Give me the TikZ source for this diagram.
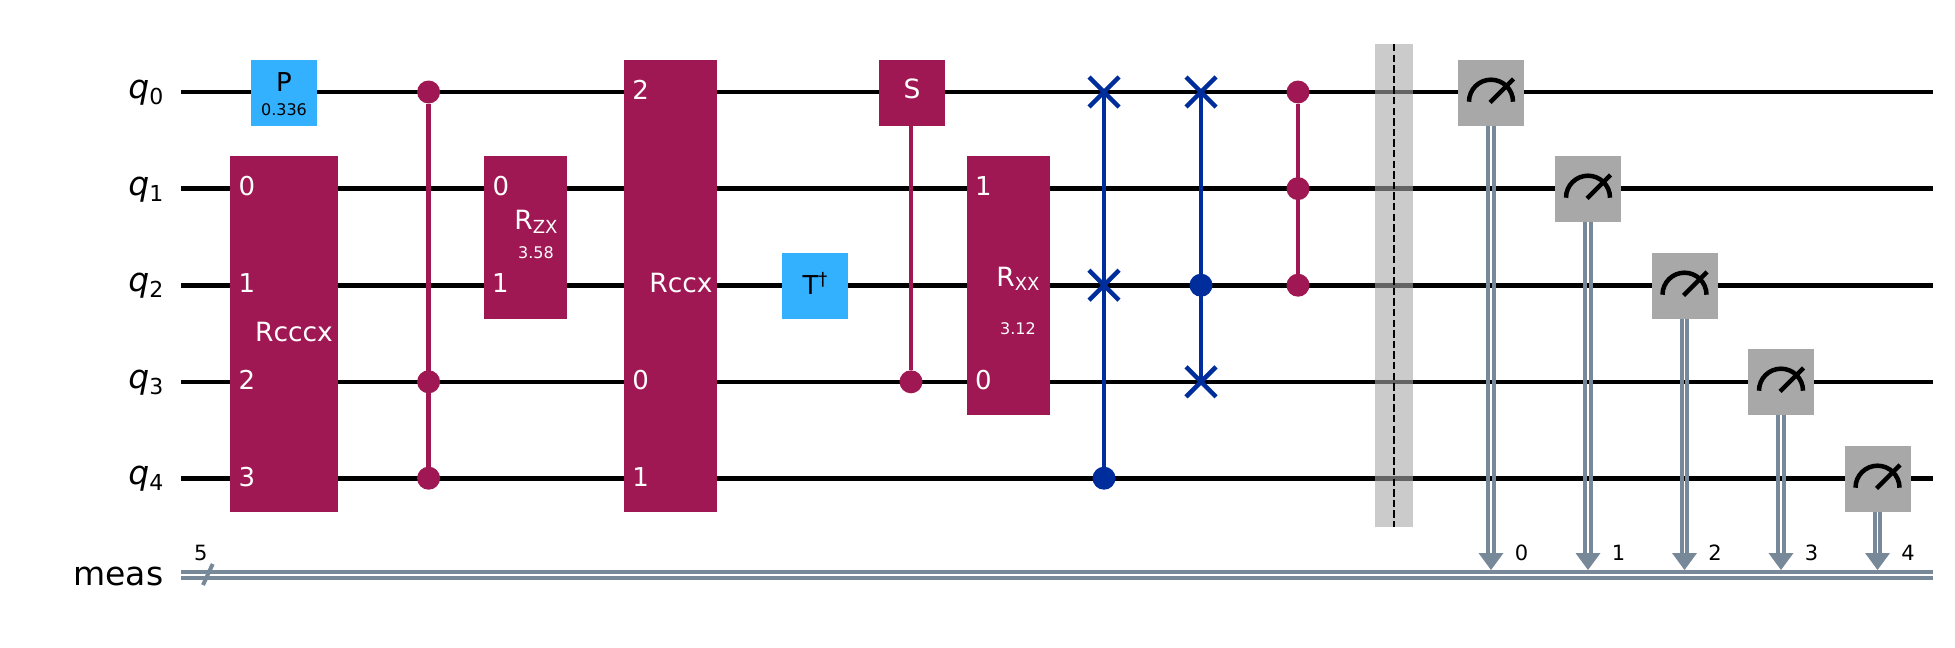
\documentclass[tikz,border=0pt]{standalone}
\usepackage{fontspec}
\setmainfont{DejaVu Sans}
\usepackage{tikz}
\usetikzlibrary{shapes.misc}
\definecolor{multicol}{HTML}{9F1853}
\definecolor{lightcol}{HTML}{33B1FF}
\definecolor{swapcol}{HTML}{002D9C}
\definecolor{meascol}{HTML}{A8A8A8}
\definecolor{clcol}{HTML}{778899}
\newcommand{\fs}[1]{\fontsize{#1}{#1}\selectfont}
\newcommand{\gatesub}[2]{R\raisebox{-4.5pt}{\fs{18}#2}}
\tikzset{
  wire/.style={line width=4.6pt,black},
  clbit/.style={line width=4pt,clcol},
  ctrlline/.style={line width=4.5pt,#1},
  gatebox/.style={rectangle,inner sep=0pt,outer sep=0pt,minimum width=#1},
  multigate/.style={gatebox=#1,fill=multicol},
  lightgate/.style={gatebox=66pt,minimum height=66pt,fill=lightcol},
  measbox/.style={gatebox=66pt,minimum height=66pt,fill=meascol},
  ctrl/.style={circle,inner sep=0pt,outer sep=0pt,minimum size=23pt,fill=#1},
  swapx/.style={cross out,draw=swapcol,line width=4.5pt,inner sep=0pt,outer sep=0pt,minimum size=30pt},
  gatetxt/.style={inner sep=0pt,white,font=\fs{26.5}},
  subtxt/.style={inner sep=0pt,white,font=\fs{16}},
  pintxt/.style={inner sep=0pt,white,font=\fs{26}},
  cltxt/.style={inner sep=0pt,black,font=\fs{21}},
  wiretxt/.style={inner sep=0pt,anchor=base east,black,font=\fs{33}},
}
\begin{document}
\begin{tikzpicture}[x=1pt,y=-1pt]
      \useasboundingbox (0,0) rectangle (1955,648);
      \foreach \i/\y in {0/92,1/188.6,2/285.2,3/381.8,4/478.2}
      {
        \coordinate (in\i) at (181,\y);
        \coordinate (out\i) at (1933,\y);
        \node [wiretxt] (qlab\i) at (163.5,\y+6.5) {\itshape q\raisebox{-6pt}{\fs{22}\upshape\i}};
        \draw [wire] (in\i) -- (out\i);
      }
      \coordinate (clin) at (181,575);
      \coordinate (clout) at (1933,575);
      \coordinate (slasha) at (203,585);
      \coordinate (slashb) at (212.7,564);
      \draw [clbit] ([yshift=3pt]clin) -- ([yshift=3pt]clout);
      \draw [clbit] ([yshift=-3pt]clin) -- ([yshift=-3pt]clout);
      \draw [clbit] (slasha) -- (slashb);
      \node [wiretxt] (measlab) at (163.5,585.5) {meas};
      \node [cltxt] (cllab) at (200.7,553) {5};

      \node [gatebox=38pt,minimum height=483.5pt,fill=meascol,fill opacity=0.6] (bar) at (1394,285.7) {};
      \draw [line width=2pt,black,dash pattern=on 7.4pt off 3.2pt] (bar.north) -- (bar.south);

      \node [lightgate] (pgate) at (284,93) {};
      \node [inner sep=0pt,font=\fs{26}] (ptxt) at (284,82) {P};
      \node [inner sep=0pt,font=\fs{16}] (pval) at (284,110) {0.336};

      \node [multigate=108pt,minimum height=356pt] (rcccx) at (284,334) {};
      \node [gatetxt] (rcccxtxt) at (294,332.5) {Rcccx};
      \foreach \t/\y in {0/186.5,1/283,2/380,3/477}
      \node [pintxt] (rcccxpin\t) at (247,\y) {\t};

      \node [ctrl=multicol] (cca) at (428.6,92) {};
      \node [ctrl=multicol] (ccb) at (428.6,381.8) {};
      \node [ctrl=multicol] (ccc) at (428.6,478.2) {};
      \draw [ctrlline=multicol] (cca) -- (ccc);

      \node [multigate=83pt,minimum height=163pt] (rzx) at (525.5,237.5) {};
      \node [gatetxt] (rzxtxt) at (536,222) {\gatesub{R}{ZX}};
      \node [subtxt] (rzxval) at (536,252.5) {3.58};
      \node [pintxt] (rzxpina) at (501,186.5) {0};
      \node [pintxt] (rzxpinb) at (500.5,283) {1};

      \node [multigate=93pt,minimum height=452pt] (rccx) at (670.5,286) {};
      \node [gatetxt] (rccxtxt) at (681,283.5) {Rccx};
      \node [pintxt] (rccxpina) at (640.6,90) {2};
      \node [pintxt] (rccxpinb) at (640.6,380) {0};
      \node [pintxt] (rccxpinc) at (640.6,477) {1};

      \node [lightgate] (tdg) at (815,286) {};
      \node [inner sep=0pt,font=\fs{26}] (tdgtxt) at (815,283.5) {T\raisebox{9pt}{\fs{18}†}};

      \node [multigate=66pt,minimum height=66pt] (sgate) at (912,93) {};
      \node [gatetxt] (stxt) at (912,89) {S};
      \node [ctrl=multicol] (sctrl) at (911,381.8) {};
      \draw [ctrlline=multicol] (sgate.south -| sctrl) -- (sctrl);

      \node [multigate=83pt,minimum height=259.5pt] (rxx) at (1008.5,285.7) {};
      \node [gatetxt] (rxxtxt) at (1018,279) {\gatesub{R}{XX}};
      \node [subtxt] (rxxval) at (1018,329) {3.12};
      \node [pintxt] (rxxpina) at (983.5,186.5) {1};
      \node [pintxt] (rxxpinb) at (983.5,380) {0};

      \node [swapx] (swa) at (1104,92) {};
      \node [swapx] (swb) at (1104,285.2) {};
      \node [ctrl=swapcol] (swc) at (1104,478.2) {};
      \draw [ctrlline=swapcol] (swa.center) -- (swc);

      \node [swapx] (sxa) at (1201,92) {};
      \node [ctrl=swapcol] (sxb) at (1201,285.2) {};
      \node [swapx] (sxc) at (1201,381.8) {};
      \draw [ctrlline=swapcol] (sxa.center) -- (sxc.center);

      \node [ctrl=multicol] (cza) at (1298,92) {};
      \node [ctrl=multicol] (czb) at (1298,188.6) {};
      \node [ctrl=multicol] (czc) at (1298,285.2) {};
      \draw [ctrlline=multicol] (cza) -- (czc);

      \foreach \i/\x/\y in {0/1491/93,1/1588/189,2/1684.5/286,3/1781/382,4/1877.5/479}
      {
        \node [measbox] (m\i) at (\x,\y) {};
        \draw [line width=4.5pt,black] ([shift={(-22pt,-8.7pt)}]m\i.center) arc [start angle=180,end angle=0,radius=22pt];
        \draw [line width=4.5pt,black] ([shift={(-1pt,-9.5pt)}]m\i.center) -- ([shift={(22.5pt,14pt)}]m\i.center);
        \coordinate (tip\i) at (\x,570);
        \draw [clbit] ([xshift=-2.85pt]m\i.south) -- ([xshift=-2.85pt,yshift=10pt]tip\i);
        \draw [clbit] ([xshift=2.85pt]m\i.south) -- ([xshift=2.85pt,yshift=10pt]tip\i);
        \fill [clcol] ([shift={(-12.5pt,17pt)}]tip\i) -- ([shift={(12.5pt,17pt)}]tip\i) -- (tip\i) -- cycle;
        \node [cltxt] (mlab\i) at (\x+30.5,553) {\i};
      }
    \end{tikzpicture}
\end{document}
